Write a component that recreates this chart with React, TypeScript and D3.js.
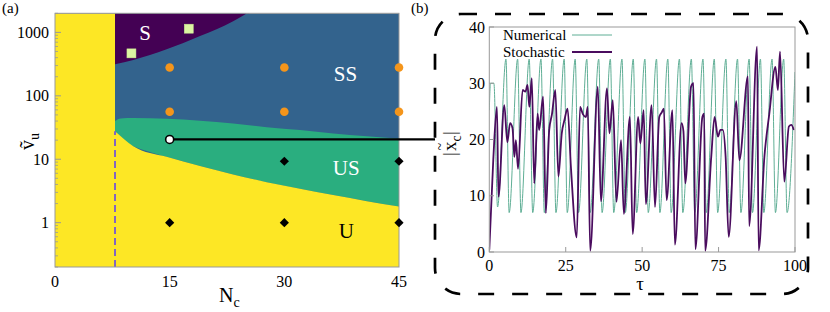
import React from "react";
import * as d3 from "d3";

// ---- panel (a): phase diagram ----
const nuTicks = [1, 10, 100, 1000];
const ncTicks = [0, 15, 30, 45];
const ncCrit = 7.85; // vertical dashed line / yellow strip edge

// S / SS boundary
const sBoundaryN = [7.85, 10.24, 14.6, 18.97, 23.3, 25.4];
const sBoundaryNu = [314, 367, 541, 875, 1503, 2100];

// US region, upper edge (SS/US) and lower edge (US/U)
const usTopN = [7.85, 8.6, 10.24, 14.6, 18.97, 23.3, 27.7, 32.05, 36.4, 40.8, 45];
const usTopNu = [40, 44, 44.5, 43.5, 40.5, 36.7, 32, 28.8, 25.5, 23.1, 21];
const usBotN = [7.85, 10.24, 14.6, 18.97, 23.3, 27.7, 32.05, 36.4, 40.8, 45];
const usBotNu = [27.7, 16.1, 10.9, 7.8, 5.75, 4.35, 3.43, 2.72, 2.18, 1.8];

// markers
const squares = [
  { n: 10, nu: 467 },
  { n: 17.5, nu: 1144 },
];
const circles = [
  { n: 15, nu: 280 }, { n: 30, nu: 280 }, { n: 45, nu: 280 },
  { n: 15, nu: 56 }, { n: 30, nu: 56 }, { n: 45, nu: 56 },
];
const diamonds = [
  { n: 15, nu: 1 }, { n: 30, nu: 1 }, { n: 45, nu: 1 },
  { n: 30, nu: 9.3 }, { n: 45, nu: 9.3 },
];
const picked = { n: 15, nu: 20.5 };

const regionLabels = [
  { t: "S", n: 11.8, nu: 760, fill: "#fff" },
  { t: "SS", n: 38, nu: 171, fill: "#fff" },
  { t: "US", n: 38.1, nu: 5.6, fill: "#fff" },
  { t: "U", n: 38.1, nu: 0.57, fill: "#000" },
];

// ---- panel (b): time series ----
const tauTicks = [0, 25, 50, 75, 100];
const xcTicks = [0, 10, 20, 30, 40];

const numTau = [0, 0.4, 1.5, 2.7, 5.45, 6.5, 9.27, 10.35, 13.06, 14.2, 16.9, 18.0, 20.7, 21.8,
  24.5, 25.5, 28.1, 29.2, 31.9, 33.0, 35.8, 36.9, 39.6, 40.7, 43.4, 44.5, 47.1, 48.2, 50.9, 52.0,
  54.7, 55.8, 58.4, 59.5, 62.2, 63.3, 66.1, 67.2, 69.9, 71.0, 73.6, 74.7, 77.4, 78.5, 81.2, 82.3,
  85.0, 86.1, 88.7, 89.8, 92.5, 93.6, 96.3, 97.4, 100];
const numVal = [25.2, 30, 30, 8.0, 34.3, 7.0, 34.3, 7.0, 34.3, 7.0, 34.3, 7.0, 34.3, 7.0,
  34.3, 7.0, 34.3, 7.0, 34.3, 7.0, 34.3, 7.0, 34.3, 7.0, 34.3, 7.0, 34.3, 7.0, 34.3, 7.0,
  34.3, 7.0, 34.3, 7.0, 34.3, 7.0, 34.3, 7.0, 34.3, 7.0, 34.3, 7.0, 34.3, 7.0, 34.3, 7.0,
  34.3, 7.0, 34.3, 7.0, 34.3, 7.0, 34.3, 7.0, 32];

const stoTau = [0, 1.3, 2.5, 3.0, 4.9, 5.9, 6.8, 7.6, 8.2, 8.7, 9.4, 10.9, 11.8, 12.5, 13.1, 13.9,
  14.7, 15.8, 16.3, 17.6, 18.5, 19.6, 20.5, 21.6, 22.6, 23.7, 24.6, 25.6, 26.7, 28.6, 29.7, 30.6,
  31.6, 32.2, 33.0, 35.5, 36.5, 38.5, 39.3, 40.4, 41.6, 43.1, 44.0, 46.0, 46.9, 48.7, 49.4, 50.5,
  51.2, 53.1, 54.2, 55.6, 56.4, 57.1, 58.0, 59.9, 60.7, 62.9, 63.5, 64.1, 66.0, 66.8, 67.4, 69.7,
  70.3, 70.6, 72.6, 73.7, 74.8, 75.6, 76.4, 77.3, 78.3, 80.8, 81.8, 84.6, 85.0, 87.6, 88.1, 90.0,
  91.6, 93.6, 94.4, 95.1, 96.5, 98.0, 98.8, 99.6];
const stoVal = [0.4, 16.4, 25.8, 9.8, 26.1, 19.5, 22.9, 22.0, 16.9, 19.9, 14.8, 28.8, 28.5, 29.7, 25.8, 30.9,
  12.2, 24.6, 21.7, 27.6, 6.9, 21.7, 24.5, 28.8, 13.4, 21.1, 23.5, 25.5, 15.1, 2.6, 25.8, 24.5,
  24.0, 25.8, 0.2, 29.4, 9.0, 29.1, 21.1, 27.0, 8.9, 19.9, 6.8, 24.0, 3.2, 24.0, 19.3, 25.2,
  8.5, 26.1, 8.0, 24.0, 24.8, 25.5, 9.2, 25.2, 1.3, 22.9, 21.5, 12.2, 29.4, 30.0, 0.5, 24.0,
  24.6, 0.2, 16.9, 24.0, 20.5, 21.7, 21.7, 17.0, 2.7, 26.8, 16.3, 31.2, 4.6, 36.5, 0.3, 17.0,
  24.6, 32.9, 28.8, 35.6, 12.5, 22.3, 22.6, 21.7];

const C = {
  S: "#440154",
  SS: "#33638d",
  US: "#2aae7f",
  U: "#fde725",
  sq: "#dcf5a2",
  orange: "#f4951b",
  num: "#5fae95",
  sto: "#4a0c5e",
  frame: "#999999",
};
const FONT = "'Liberation Serif', 'Times New Roman', serif";

const App: React.FC = () => {
  const x = d3.scaleLinear().domain([0, 45]).range([55, 399]);
  const y = d3.scaleLog().domain([0.2, 2000]).range([267, 13.3]);

  const sArea = d3
    .area<number>()
    .x((_, i) => x(sBoundaryN[i]))
    .y0(y(2000))
    .y1((_, i) => y(sBoundaryNu[i]))
    .curve(d3.curveMonotoneX)(sBoundaryN) as string;

  const lineTop = d3
    .line<number>()
    .x((_, i) => x(usTopN[i]))
    .y((_, i) => y(usTopNu[i]))
    .curve(d3.curveMonotoneX)(usTopN) as string;
  const botPts = usBotN.map((n, i) => [x(n), y(usBotNu[i])] as [number, number]);
  const lineBotRev = d3.line().curve(d3.curveMonotoneY)(botPts.slice().reverse()) as string;
  const usPath = lineTop + lineBotRev.replace(/^M/, "L") + "Z";

  const uArea = d3
    .area<number>()
    .x((_, i) => x(usBotN[i]))
    .y0(y(0.2))
    .y1((_, i) => y(usBotNu[i]))
    .curve(d3.curveMonotoneX)(usBotN) as string;

  const minor: number[] = [];
  [0.1, 1, 10, 100, 1000].forEach((d) => {
    for (let k = 2; k <= 9; k++) {
      const v = d * k;
      if (v >= 0.2 && v <= 2000) minor.push(v);
    }
  });

  // panel b
  const xb = d3.scaleLinear().domain([0, 100]).range([489.3, 795]);
  const yb = d3.scaleLinear().domain([0, 40]).range([252, 27]);
  const numLine = d3
    .line<number>()
    .x((_, i) => xb(numTau[i]))
    .y((_, i) => yb(numVal[i]))
    .curve(d3.curveMonotoneX)(numTau) as string;
  const stoLine = d3
    .line<number>()
    .x((_, i) => xb(stoTau[i]))
    .y((_, i) => yb(stoVal[i]))
    .curve(d3.curveMonotoneX)(stoTau) as string;

  return (
    <svg
      width={830}
      height={312}
      style={{ position: "absolute", left: 0, top: 0, background: "#fff" }}
      fontFamily={FONT}
    >
      <defs>
        <clipPath id="clipA">
          <rect x={55} y={13.3} width={344} height={253.7} />
        </clipPath>
        <clipPath id="clipB">
          <rect x={489.3} y={27} width={305.7} height={225} />
        </clipPath>
      </defs>

      {/* ---- panel (a) ---- */}
      <text x={2} y={13} fontSize={15}>(a)</text>
      <g clipPath="url(#clipA)">
        <rect x={55} y={13.3} width={344} height={253.7} fill={C.SS} />
        <path d={sArea} fill={C.S} />
        <path d={usPath} fill={C.US} />
        <path d={uArea} fill={C.U} />
        <rect x={55} y={13.3} width={x(ncCrit) - 55} height={253.7} fill={C.U} />
      </g>
      <line
        x1={x(ncCrit)} x2={x(ncCrit)} y1={y(0.2)} y2={y(27.7)}
        stroke="#5b3cf5" strokeWidth={1.5} strokeDasharray="7 4"
      />
      <rect x={55} y={13.3} width={344} height={253.7} fill="none" stroke={C.frame} strokeWidth={1} />
      {minor.map((v) => (
        <line key={"m" + v} x1={55} x2={58} y1={y(v)} y2={y(v)} stroke={C.frame} strokeWidth={0.8} />
      ))}
      {nuTicks.map((v) => (
        <g key={"yt" + v}>
          <line x1={55} x2={61} y1={y(v)} y2={y(v)} stroke={C.frame} strokeWidth={1} />
          <text x={49} y={y(v) + 5.5} fontSize={16} textAnchor="end">{v}</text>
        </g>
      ))}
      {ncTicks.map((v) => (
        <text key={"xt" + v} x={x(v)} y={287} fontSize={16} textAnchor="middle">{v}</text>
      ))}
      <text x={219} y={301.5} fontSize={20}>
        N<tspan fontSize={14} dy={5}>c</tspan>
      </text>
      <g transform="translate(34,150) rotate(-90)">
        <text x={0} y={0} fontSize={20}>
          ṽ<tspan fontSize={14} dy={5}>u</tspan>
        </text>
      </g>

      {regionLabels.map((l) => (
        <text
          key={l.t} x={x(l.n)} y={y(l.nu)} fontSize={21} fill={l.fill}
          textAnchor="middle"
        >
          {l.t}
        </text>
      ))}

      {squares.map((d, i) => (
        <rect
          key={"sq" + i} x={x(d.n) - 4.5} y={y(d.nu) - 4.5} width={9} height={9}
          fill={C.sq} stroke="#c8e890" strokeWidth={0.5}
        />
      ))}
      {circles.map((d, i) => (
        <circle key={"c" + i} cx={x(d.n)} cy={y(d.nu)} r={4.3} fill={C.orange} />
      ))}
      {diamonds.map((d, i) => (
        <path
          key={"d" + i}
          d={`M${x(d.n)},${y(d.nu) - 4.6}L${x(d.n) + 4.6},${y(d.nu)}L${x(d.n)},${y(d.nu) + 4.6}L${x(d.n) - 4.6},${y(d.nu)}Z`}
          fill="#000"
        />
      ))}

      {/* connector to panel (b) */}
      <line x1={x(picked.n)} x2={435} y1={y(picked.nu)} y2={y(picked.nu)} stroke="#000" strokeWidth={2.2} />
      <circle cx={x(picked.n)} cy={y(picked.nu)} r={4} fill="#fff" stroke="#000" strokeWidth={1.6} />

      {/* ---- panel (b) ---- */}
      <text x={411} y={13} fontSize={15}>(b)</text>
      <rect
        x={435} y={14} width={373} height={280} rx={26} ry={26}
        fill="none" stroke="#000" strokeWidth={2.7} strokeDasharray="16 18"
      />
      <g clipPath="url(#clipB)">
        <path d={numLine} fill="none" stroke={C.num} strokeWidth={1} />
        <path d={stoLine} fill="none" stroke={C.sto} strokeWidth={1.8} strokeLinejoin="round" />
      </g>
      <rect x={489.3} y={27} width={305.7} height={225} fill="none" stroke={C.frame} strokeWidth={1} />
      {xcTicks.map((v) => (
        <g key={"by" + v}>
          <line x1={489.3} x2={494} y1={yb(v)} y2={yb(v)} stroke={C.frame} />
          <text x={485} y={yb(v) + 5.5} fontSize={16} textAnchor="end">{v}</text>
        </g>
      ))}
      {tauTicks.map((v) => (
        <g key={"bx" + v}>
          <line x1={xb(v)} x2={xb(v)} y1={252} y2={247} stroke={C.frame} />
          <text x={xb(v)} y={271} fontSize={16} textAnchor="middle">{v}</text>
        </g>
      ))}
      <text x={640} y={290} fontSize={19} textAnchor="middle">τ</text>
      <g transform="translate(456,140) rotate(-90)">
        <text x={-16} y={0} fontSize={19}>|</text>
        <text x={-11} y={0} fontSize={19}>x</text>
        <text x={-10.5} y={-11} fontSize={14}>~</text>
        <text x={-1.5} y={5} fontSize={14}>c</text>
        <text x={5} y={0} fontSize={19}>|</text>
      </g>

      {/* legend */}
      <text x={503} y={40} fontSize={15}>Numerical</text>
      <line x1={572} x2={612} y1={35} y2={35} stroke={C.num} strokeWidth={1} />
      <text x={503} y={57} fontSize={15}>Stochastic</text>
      <line x1={572} x2={612} y1={52} y2={52} stroke={C.sto} strokeWidth={2} />
    </svg>
  );
};

export default App;
